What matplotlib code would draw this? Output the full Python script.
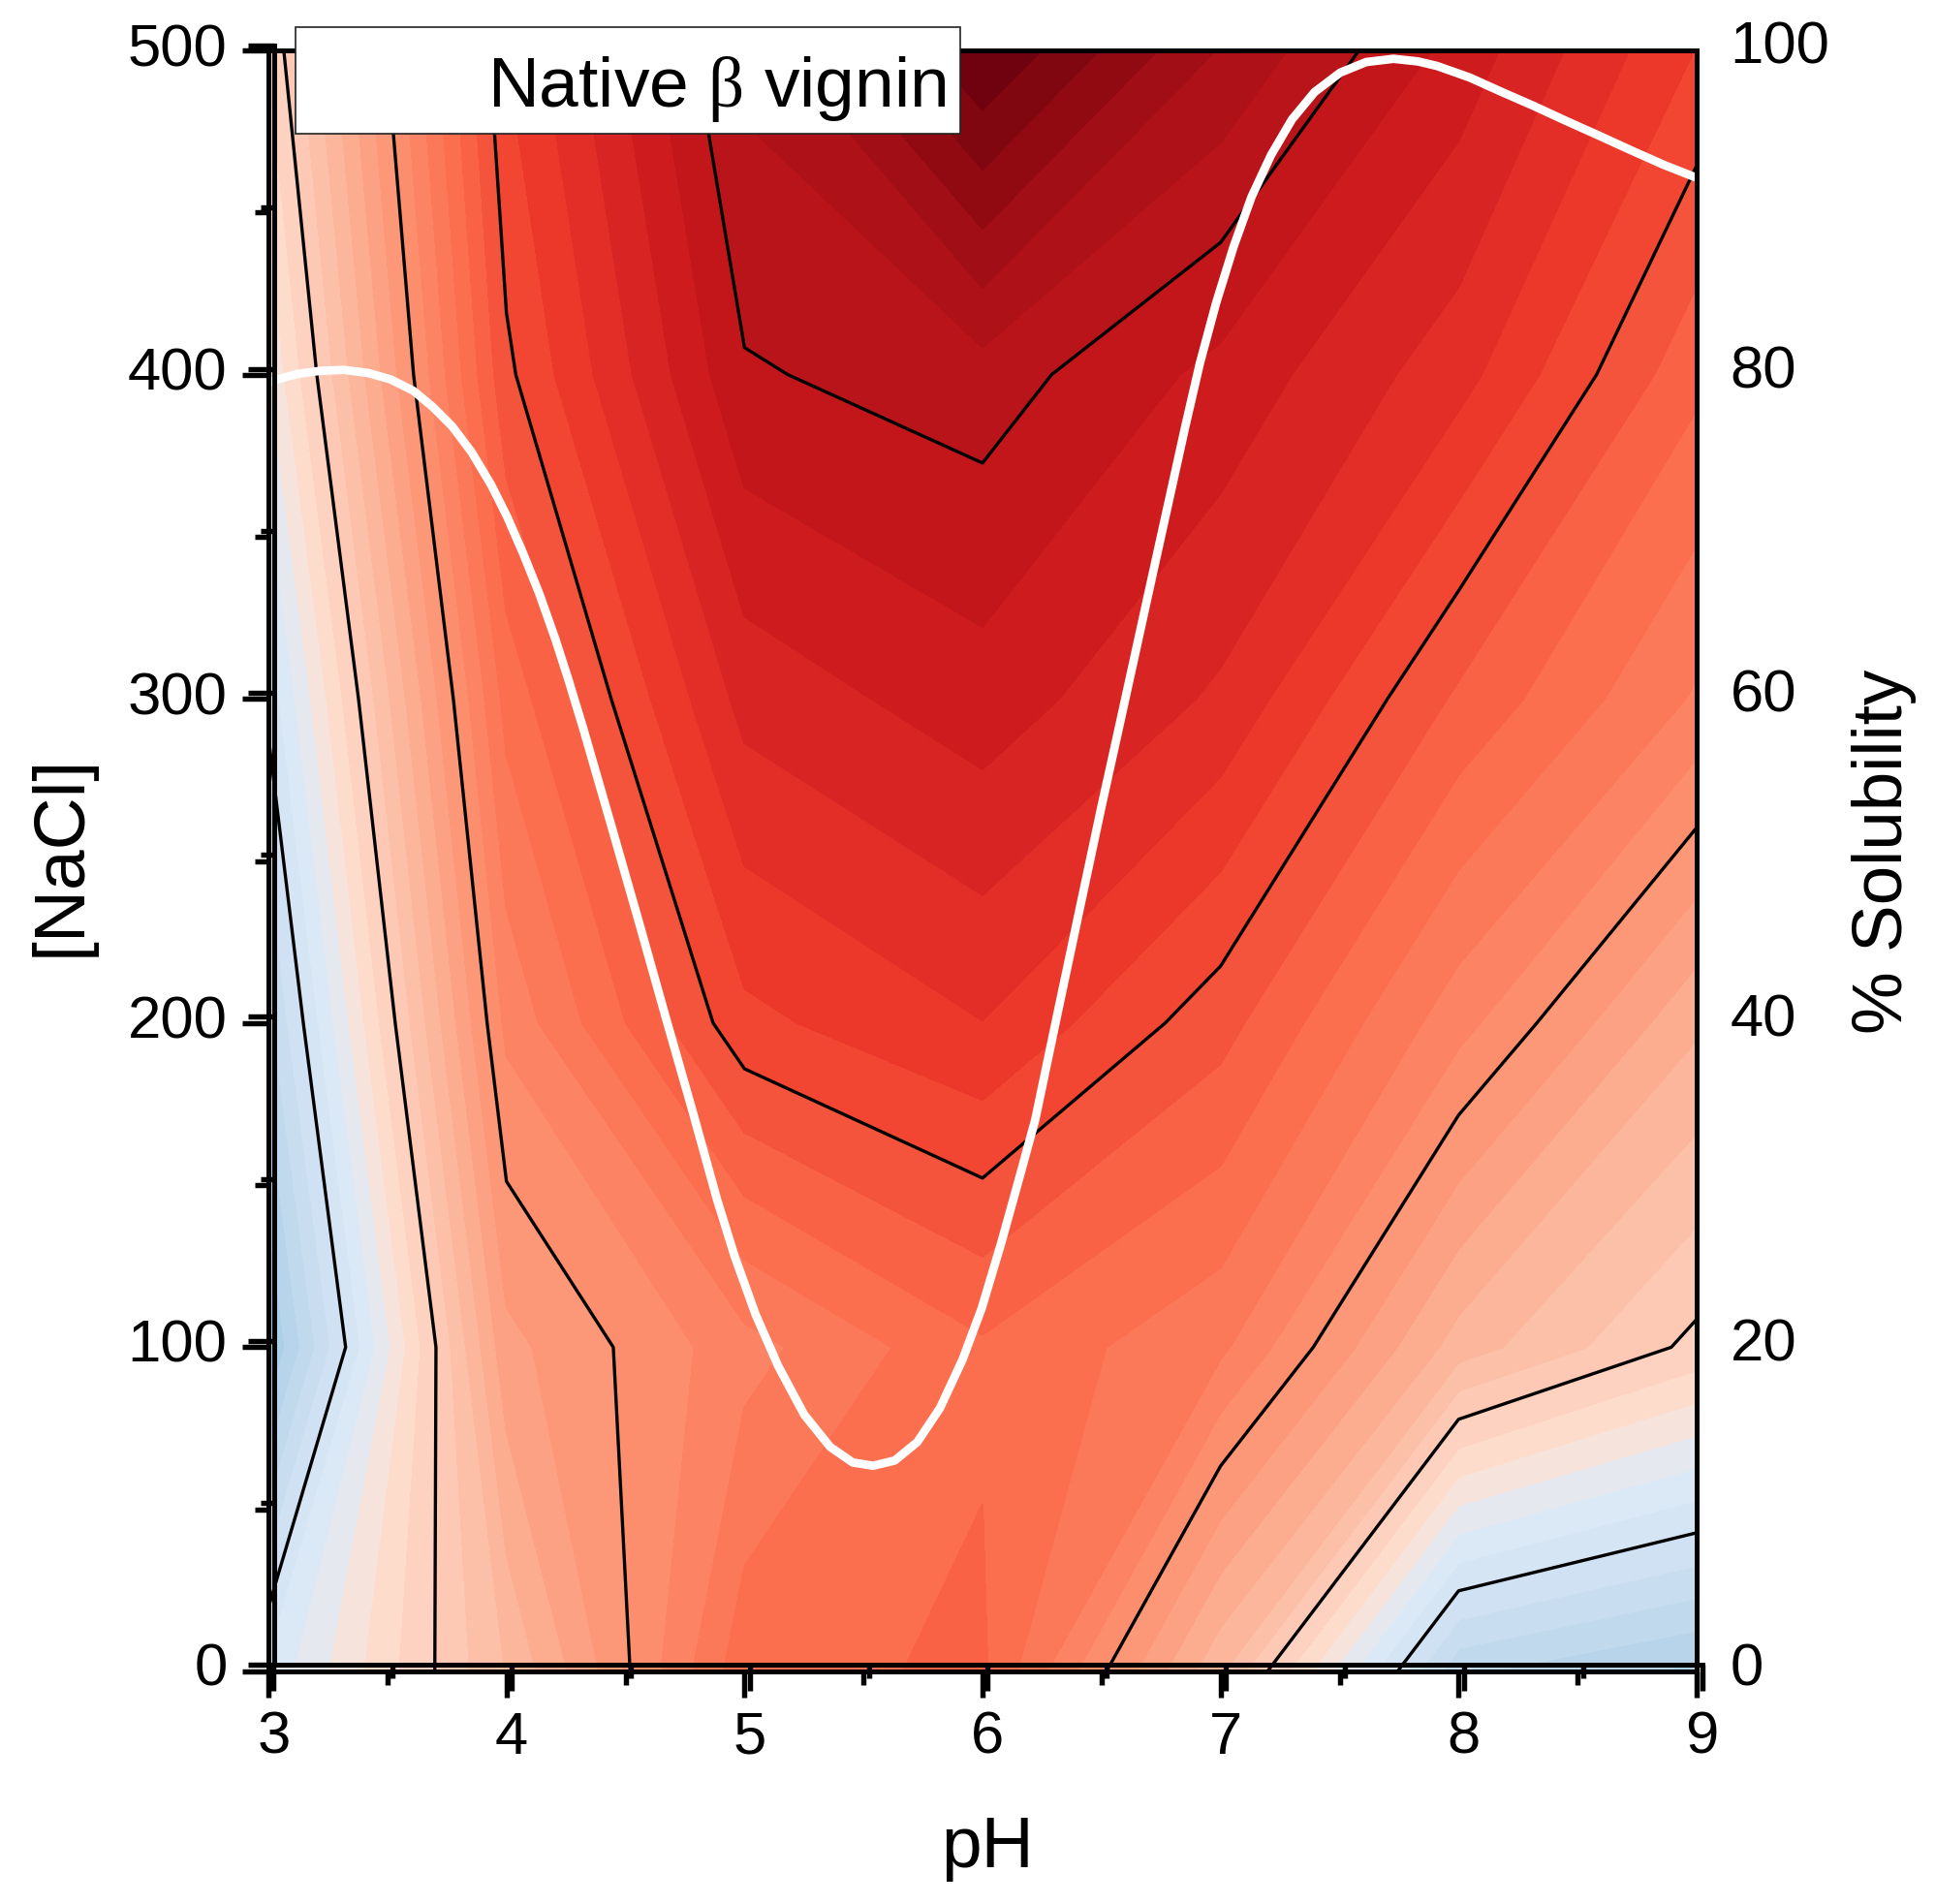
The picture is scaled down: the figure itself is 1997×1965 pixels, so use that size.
import numpy as np
import matplotlib
matplotlib.use("Agg")
import matplotlib.pyplot as plt
from matplotlib.colors import LinearSegmentedColormap, Normalize
from matplotlib.patches import Rectangle
from matplotlib.ticker import MultipleLocator

plt.rcParams['font.family'] = ['Liberation Sans', 'DejaVu Sans']
plt.rcParams['mathtext.fontset'] = 'custom'
plt.rcParams['mathtext.rm'] = 'Liberation Serif'

W, H, DPI = 1997, 1965, 300

ph_grid = [3, 4, 5, 6, 7, 8, 9]
nacl_grid = [0, 100, 200, 300, 400, 500]
z_0 = [1.21, 2.34, 3.61, 3.695, 2.36, 0.53, 0.29]
z_100 = [0.145, 2.78, 3.27, 3.64, 3.37, 2.42, 1.95]
z_200 = [0.62, 3.21, 4.12, 4.33, 3.90, 3.23, 2.53]
z_300 = [1.05, 3.56, 4.56, 4.76, 4.47, 3.80, 3.31]
z_400 = [1.50, 3.96, 4.98, 5.09, 4.78, 4.40, 3.71]
z_500 = [1.85, 4.17, 5.22, 6.00, 5.32, 4.77, 4.16]

line_levels = [1, 2, 3, 4, 5]
fill_levels = [k / 6 for k in range(0, 37)]

cmap_pos = [0, 0.67, 1.33, 1.67, 2.33, 3, 3.67, 4.2, 4.8, 5.4, 6]
cmap_col = ['#9ecae1', '#c6dbef', '#deebf7', '#fee0d2', '#fcbba1', '#fc9272',
            '#fb6a4a', '#ef3b2c', '#cb181d', '#a50f15', '#67000d']

sol_ph = [3.00, 3.037, 3.121, 3.216, 3.317, 3.419, 3.514, 3.609, 3.691, 3.772, 3.854, 3.935,
          4.003, 4.071, 4.139, 4.206, 4.261, 4.322, 4.444, 4.559, 4.674, 4.783, 4.885,
          4.959, 5.047, 5.142, 5.251, 5.360, 5.455, 5.540, 5.631, 5.726, 5.821, 5.916,
          5.997, 6.078, 6.146, 6.221, 6.323, 6.418, 6.499, 6.565, 6.708, 6.852, 6.913,
          6.981, 7.055, 7.130, 7.212, 7.300, 7.395, 7.503, 7.612, 7.726, 7.829, 7.909,
          8.046, 8.182, 8.316, 8.453, 8.590, 8.724, 8.860, 9.00]
sol_pct = [79.5, 79.70, 80.04, 80.23, 80.29, 80.10, 79.70, 79.00, 78.00, 76.81, 75.21, 73.22,
           71.23, 68.94, 66.45, 63.66, 61.15, 58.20, 52.00, 46.10, 40.10, 34.50, 29.10,
           25.60, 22.01, 18.83, 15.84, 13.85, 12.89, 12.69, 13.01, 14.15, 16.24, 19.23,
           22.42, 26.40, 29.99, 34.01, 41.14, 47.72, 53.30, 57.68, 67.24, 76.81, 80.69,
           84.40, 87.90, 90.96, 93.54, 95.74, 97.43, 98.63, 99.28, 99.48, 99.32, 99.04,
           98.33, 97.43, 96.57, 95.64, 94.74, 93.84, 92.95, 92.14]

sol_ticks = [0, 20, 40, 60, 80, 100]


def rect(x0, y0, x1, y1):
    return [x0 / W, 1 - y1 / H, (x1 - x0) / W, (y1 - y0) / H]


def style_ticks(a):
    a.xaxis.set_major_locator(MultipleLocator(1))
    a.xaxis.set_minor_locator(MultipleLocator(0.5))
    a.yaxis.set_major_locator(MultipleLocator(100))
    a.yaxis.set_minor_locator(MultipleLocator(50))
    a.tick_params(which='major', length=6.5, width=1.3, labelsize=14.8, pad=5)
    a.tick_params(which='minor', length=3.3, width=1.3)


fig = plt.figure(figsize=(W / DPI, H / DPI), dpi=DPI)

# main axes holding the contours
ax = fig.add_axes(rect(277, 52, 1751, 1725))
Z = np.array([z_0, z_100, z_200, z_300, z_400, z_500])
stops = [(p - cmap_pos[0]) / (cmap_pos[-1] - cmap_pos[0]) for p in cmap_pos]
cmap = LinearSegmentedColormap.from_list('bluered', list(zip(stops, cmap_col)), N=512)
norm = Normalize(0, 6)
cf = ax.contourf(ph_grid, nacl_grid, Z, levels=fill_levels, cmap=cmap, norm=norm)
cf.set_edgecolor('face')
cf.set_linewidth(0.25)
ax.contour(ph_grid, nacl_grid, Z, levels=line_levels, colors='k', linewidths=0.8)
ax.set_xlim(3, 9)
ax.set_ylim(0, 500)
style_ticks(ax)
ax.tick_params(which='both', labelbottom=False, labelleft=False)
for s in ax.spines.values():
    s.set_visible(False)

# solubility curve, under the frame of its twin axes
ax_line = ax.twinx()
ax_line.set_ylim(0, 100)
ax_line.plot(sol_ph, sol_pct, color='white', lw=2.1, zorder=2, solid_joinstyle='round')
ax_line.set_yticks([])
for s in ax_line.spines.values():
    s.set_linewidth(1.2)

# offset axes carrying the tick labels
ax_b = fig.add_axes(rect(282.5, 46.7, 1756.5, 1718), facecolor='none')
ax_b.set_xlim(3, 9)
ax_b.set_ylim(0, 500)
style_ticks(ax_b)
ax_b.spines['top'].set_visible(False)
ax_b.spines['right'].set_visible(False)
ax_b.spines['left'].set_linewidth(1.2)
ax_b.spines['bottom'].set_linewidth(1.2)
ax_b.set_xlabel('pH', fontsize=18)
ax_b.xaxis.set_label_coords(1019 / W, 1 - 1907 / H, transform=fig.transFigure)
ax_b.xaxis.label.set_va('center')
ax_b.set_ylabel('[NaCl]', fontsize=18)
ax_b.yaxis.set_label_coords(63 / W, 1 - 883 / H, transform=fig.transFigure)
ax_b.yaxis.label.set_va('center')

# labels of the solubility scale
ax_r = fig.add_axes(rect(282.5, 43.5, 1756.5, 1717), facecolor='none')
ax_r.set_ylim(0, 100)
ax_r.set_xticks([])
ax_r.yaxis.tick_right()
ax_r.yaxis.set_label_position('right')
ax_r.set_yticks(sol_ticks)
ax_r.tick_params(axis='y', length=0, labelsize=14.8, pad=7)
for s in ax_r.spines.values():
    s.set_visible(False)
ax_r.set_ylabel('% Solubility', fontsize=17.5)
ax_r.yaxis.set_label_coords(1945 / W, 1 - 879 / H, transform=fig.transFigure)
ax_r.yaxis.label.set_va('center')

# title box, overlapping the top of the frame
fig.add_artist(Rectangle((305 / W, 1 - 138 / H), (991 - 305) / W, (138 - 28) / H,
                         transform=fig.transFigure, facecolor='white', edgecolor='#222222',
                         linewidth=0.4, zorder=10))
fig.text(977 / W, 1 - 110 / H, r'Native $\mathrm{\beta}$ vignin', fontsize=17.55,
         ha='right', va='baseline', zorder=11)

fig.savefig('out.png', dpi=DPI)
